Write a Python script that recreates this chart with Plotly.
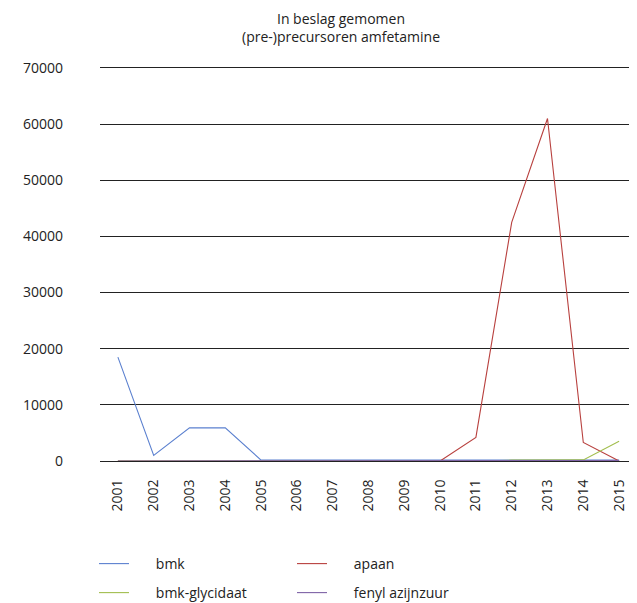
import plotly.graph_objects as go

years = [str(y) for y in range(2001, 2016)]
bmk = [18500, 1000, 5900, 5900, 150, 150, 150, 150, 150, 150, 150, 150, 150, 150, 150]
apaan = [0, 0, 0, 0, 0, 0, 0, 0, 0, 0, 4200, 42500, 61000, 3300, 0]
bmk_glycidaat = [0, 0, 0, 0, 0, 0, 0, 0, 0, 0, 0, 150, 200, 200, 3500]
fenyl_azijnzuur = [0, 0, 0, 0, 0, 0, 0, 0, 0, 0, 0, 0, 0, 100, 100]

y_ticks = [0, 10000, 20000, 30000, 40000, 50000, 60000, 70000]

series = [
    ("bmk", bmk, "#5b80cf", "legend"),
    ("apaan", apaan, "#b8403e", "legend"),
    ("bmk-glycidaat", bmk_glycidaat, "#a2be4e", "legend2"),
    ("fenyl azijnzuur", fenyl_azijnzuur, "#7e62a6", "legend2"),
]

FONT = "Open Sans"
TXT = "#222222"
W, H = 629, 595  # page body has an 8px margin in the browser
PAD = "\u00a0" * 6  # gap between legend line and its label

fig = go.Figure()
for name, vals, col, lg in series:
    fig.add_trace(go.Scatter(
        x=years, y=vals, mode="lines", name=PAD + name,
        line=dict(color=col, width=1.1), legend=lg,
    ))

legend_common = dict(
    orientation="h", xref="container", yref="container",
    xanchor="left", yanchor="middle",
    font=dict(family=FONT, size=14, color=TXT),
    entrywidth=153, entrywidthmode="pixels",
    bgcolor="rgba(0,0,0,0)", itemwidth=30, traceorder="normal",
)

fig.update_layout(
    width=W, height=H,
    margin=dict(l=92, r=0, t=60, b=142),
    paper_bgcolor="white", plot_bgcolor="white",
    font=dict(family=FONT, size=14, color=TXT),
    title=dict(
        text="In beslag gemomen<br>(pre-)precursoren amfetamine",
        x=333 / W, xanchor="center", xref="container",
        y=1 - 16 / H, yanchor="middle", yref="container",
        font=dict(family=FONT, size=14, color=TXT),
    ),
    showlegend=True,
    legend=dict(x=86 / W, y=1 - 556 / H, **legend_common),
    legend2=dict(x=86 / W, y=1 - 585 / H, **legend_common),
    xaxis=dict(
        type="category", range=[-0.5, 14.5], tickangle=-90, showgrid=False,
        zeroline=False, showline=True, mirror=True, linecolor="#222222",
        linewidth=1, ticks="", ticklabelstandoff=12,
        tickfont=dict(family=FONT, size=14, color=TXT),
    ),
    yaxis=dict(
        range=[0, 70000], tickvals=y_ticks, ticktext=[str(v) for v in y_ticks],
        showgrid=True, gridcolor="#222222", gridwidth=1, zeroline=False,
        showline=False, ticks="", ticklabelstandoff=36,
        tickfont=dict(family=FONT, size=14, color=TXT),
    ),
)

fig.write_html("out.html")
